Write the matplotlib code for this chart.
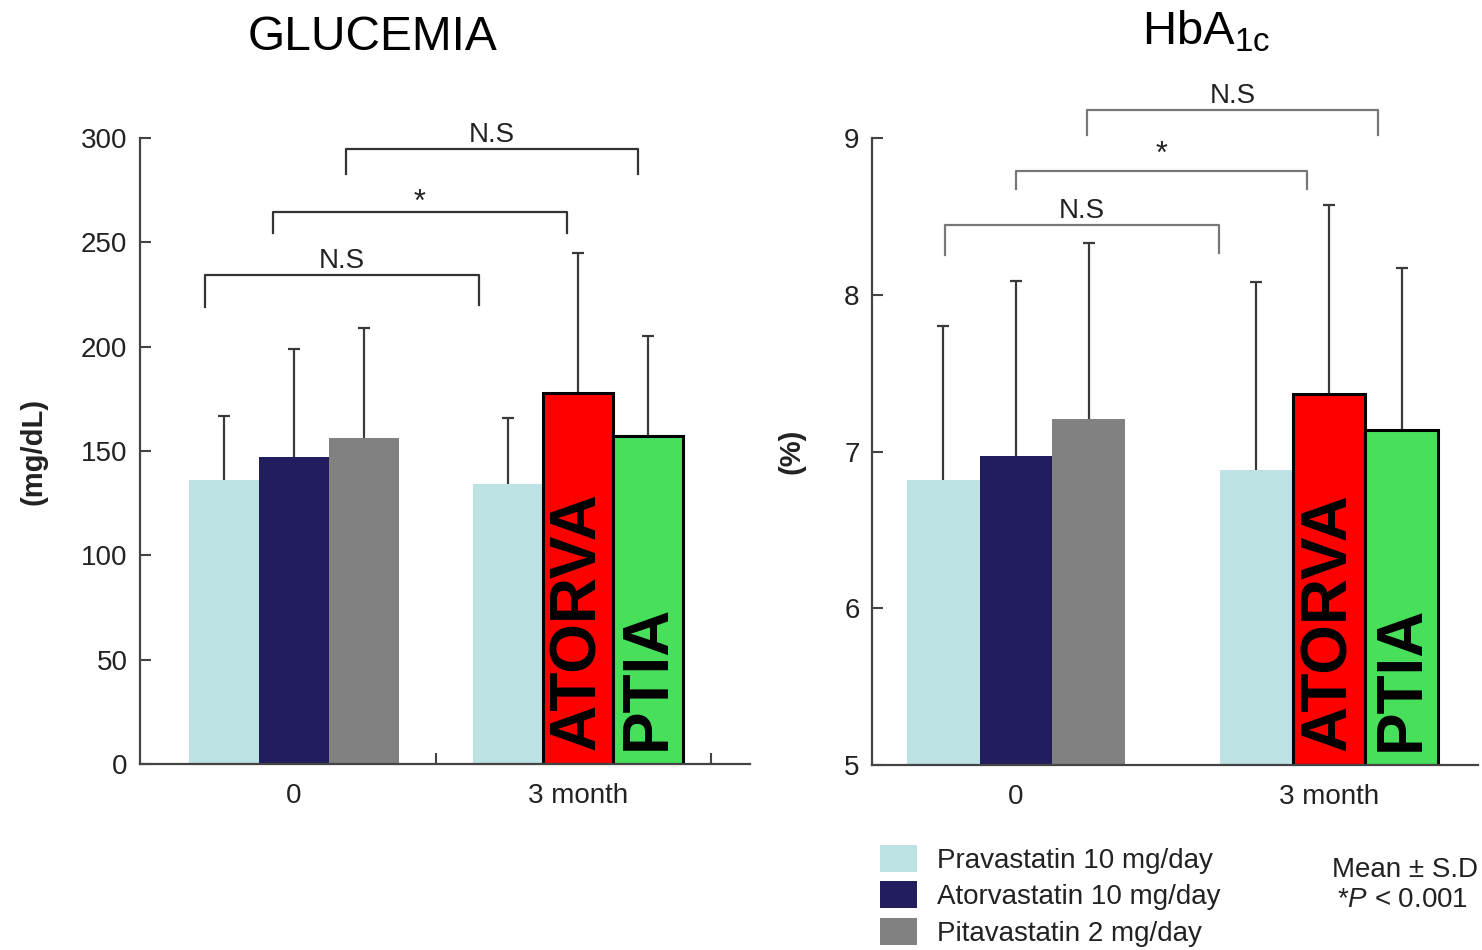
import matplotlib
matplotlib.use("Agg")
import matplotlib.pyplot as plt
from matplotlib.patches import Patch
import numpy as np

plt.rcParams['font.family'] = ['Liberation Sans', 'DejaVu Sans']
plt.rcParams['mathtext.fontset'] = 'custom'
plt.rcParams['mathtext.rm'] = 'Liberation Sans'
plt.rcParams['mathtext.it'] = 'Liberation Sans:italic'

# ---------------- data ----------------
timepoints = ["0", "3 month"]
series = ["Pravastatin 10 mg/day", "Atorvastatin 10 mg/day", "Pitavastatin 2 mg/day"]

glu_mean = {"prava": [136, 134], "atorva": [147, 178], "pita": [156, 157]}
glu_sd = {"prava": [31, 32], "atorva": [52, 67], "pita": [53, 48]}

hba_mean = {"prava": [6.82, 6.88], "atorva": [6.97, 7.37], "pita": [7.21, 7.14]}
hba_sd = {"prava": [0.98, 1.20], "atorva": [1.12, 1.20], "pita": [1.12, 1.03]}

glu_ticks = [0, 50, 100, 150, 200, 250, 300]
hba_ticks = [5, 6, 7, 8, 9]

base_colors = {"prava": "#bce2e4", "atorva": "#221d5c", "pita": "#818181"}
highlight_colors = {"atorva": "#ff0000", "pita": "#48e05a"}
highlight_text = {"atorva": "ATORVA", "pita": "PTIA"}
keys = ["prava", "atorva", "pita"]

fig = plt.figure(figsize=(14.82, 9.5), dpi=100)

axL = fig.add_axes([140/1482, 1-764/950, 610/1482, 626/950])
axR = fig.add_axes([872/1482, 1-765/950, 606/1482, 627/950])

tick_col = "#222222"
spine_col = "#444444"
err_col = "#3a3a3a"


def draw_panel(ax, means, sds, width, xlim, ylim, yticks, ylabel, ylabel_x,
               brackets, br_color, minor_ticks):
    x = np.arange(len(timepoints))
    offsets = [-width, 0, width]
    for k, off in zip(keys, offsets):
        for i in range(len(timepoints)):
            if i == 1 and k in highlight_colors:
                fc = highlight_colors[k]
                ec = "black"
                lw = 2.2
            else:
                fc = base_colors[k]
                ec = "none"
                lw = 0
            ax.bar(x[i] + off, means[k][i] - ylim[0], width, bottom=ylim[0],
                   color=fc, edgecolor=ec, linewidth=lw, zorder=2)
            top = means[k][i] + sds[k][i]
            ax.vlines(x[i] + off, means[k][i], top, color=err_col,
                      lw=1.6, zorder=1)
            ax.plot([x[i] + off], [top], marker='_', markersize=9,
                    markeredgewidth=1.6, color=err_col, zorder=1)
            if i == 1 and k in highlight_text:
                ax.annotate(highlight_text[k], xy=(x[i] + off, ylim[0]),
                            xytext=(0, 10), textcoords='offset points',
                            rotation=90, ha='center', va='bottom',
                            fontsize=46, fontweight='bold', color='black',
                            zorder=4)
    for (x1, x2, yb, leg1, leg2, label, lsize, ly) in brackets:
        ax.plot([x1, x1, x2, x2], [leg1, yb, yb, leg2], color=br_color,
                lw=1.6, clip_on=False, zorder=3)
        ax.text((x1 + x2) / 2, ly, label, ha='center', va='bottom',
                fontsize=lsize, color='#222222', clip_on=False)
    ax.set_xlim(*xlim)
    ax.set_ylim(*ylim)
    ax.set_yticks(yticks)
    ax.set_yticklabels([str(t) for t in yticks])
    ax.set_xticks(x)
    ax.set_xticklabels(timepoints)
    ax.set_xticks(minor_ticks, minor=True)
    for s in ["top", "right"]:
        ax.spines[s].set_visible(False)
    for s in ["left", "bottom"]:
        ax.spines[s].set_color(spine_col)
        ax.spines[s].set_linewidth(1.6)
    ax.tick_params(axis='y', direction='in', length=8, width=1.5,
                   color=spine_col, labelsize=20, labelcolor=tick_col, pad=9)
    ax.tick_params(axis='x', which='major', length=0, labelsize=20,
                   labelcolor=tick_col, pad=14)
    ax.tick_params(axis='x', which='minor', direction='in', length=8,
                   width=1.5, color=spine_col)
    ax.set_ylabel(ylabel, fontsize=21, fontweight='bold', color=tick_col)
    ax.yaxis.set_label_coords(ylabel_x, 0.5)


glu_brackets = [
    (-0.313, 0.651, 234.3, 219, 220, "N.S", 20, 234.8),
    (-0.074, 0.961, 264.5, 254.4, 254.4, "*", 22, 261.5),
    (0.183, 1.211, 294.7, 282.7, 282.7, "N.S", 20, 295.2),
]
draw_panel(axL, glu_mean, glu_sd, 0.246, (-0.542, 1.606), (0, 300),
           glu_ticks, "(mg/dL)", -0.151, glu_brackets, "#333333", [0.5, 1.47])

hba_brackets = [
    (-0.227, 0.649, 8.445, 8.254, 8.266, "N.S", 20, 8.45),
    (0.0, 0.93, 8.79, 8.675, 8.675, "*", 22, 8.795),
    (0.227, 1.157, 9.18, 9.02, 9.02, "N.S", 20, 9.185),
]
draw_panel(axR, hba_mean, hba_sd, 0.233, (-0.46, 1.476), (5, 9),
           hba_ticks, "(%)", -0.109, hba_brackets, "#777777", [])

fig.text(372/1482, 1-37/950, "GLUCEMIA", ha='center', va='center',
         fontsize=34.5, color='black')
fig.text(1206/1482, 1-45/950, r"HbA$_{\mathregular{1c}}$", ha='center',
         va='baseline', fontsize=34, color='black')

handles = [Patch(facecolor=base_colors[k], edgecolor='none') for k in keys]
fig.legend(handles, series, loc='upper left',
           bbox_to_anchor=(880/1482, 1-845/950), frameon=False,
           fontsize=20, handlelength=1.33, handleheight=1.12,
           handletextpad=0.72, labelspacing=0.27, borderpad=0,
           borderaxespad=0, labelcolor='#222222')

fig.text(1478/1482, 1-870/950, "Mean ± S.D", ha='right', va='center',
         fontsize=20, color='#222222')
fig.text(1468/1482, 1-900/950, r"*$\it{P}$ < 0.001", ha='right', va='center',
         fontsize=20, color='#222222')

fig.savefig("out.png", dpi=100)
